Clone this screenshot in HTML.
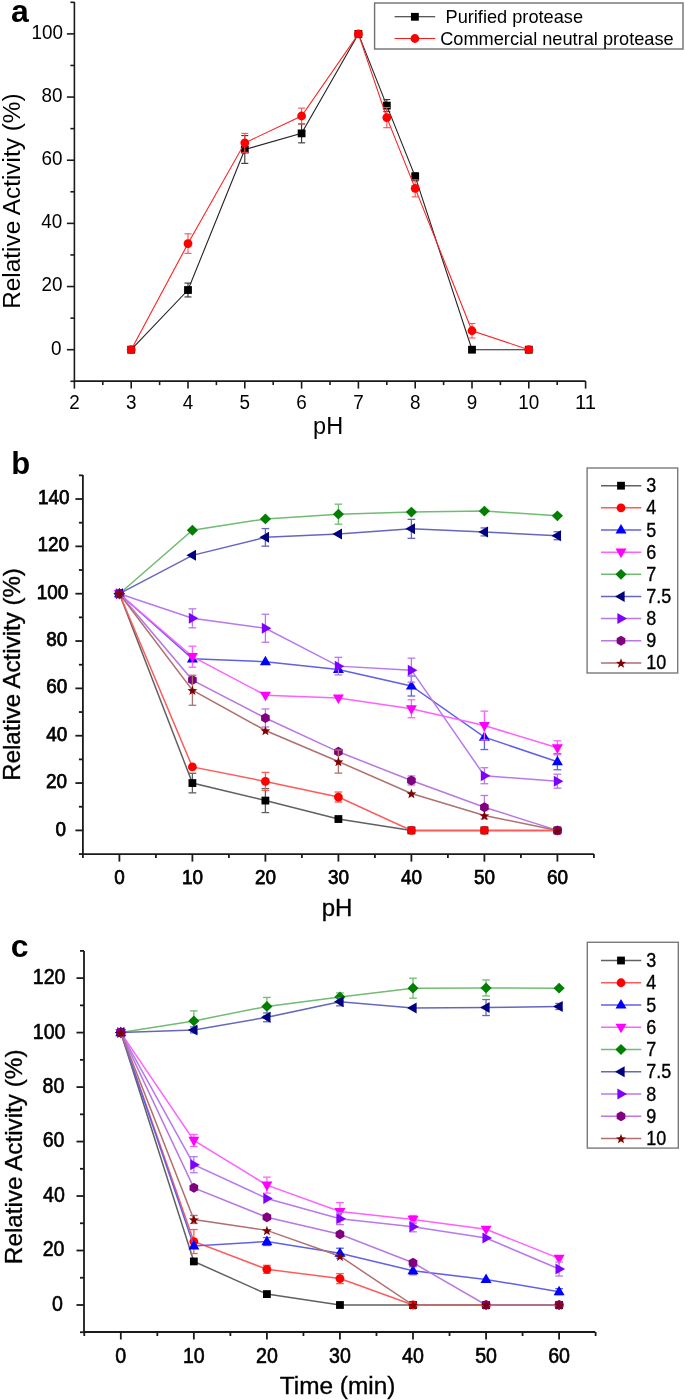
<!DOCTYPE html>
<html><head><meta charset="utf-8"><style>
html,body{margin:0;padding:0;background:#fff;}
svg{display:block;font-family:"Liberation Sans", sans-serif;will-change:transform;}
text{font-family:"Liberation Sans", sans-serif;}
</style></head><body>
<svg width="685" height="1400" viewBox="0 0 685 1400">
<rect width="685" height="1400" fill="#fff"/>
<path d="M74.4,2 V381.1 H585.6" fill="none" stroke="#1a1a1a" stroke-width="1.6"/>
<line x1="66.9" y1="349.7" x2="74.4" y2="349.7" stroke="#1a1a1a" stroke-width="1.6"/>
<line x1="66.9" y1="286.54" x2="74.4" y2="286.54" stroke="#1a1a1a" stroke-width="1.6"/>
<line x1="66.9" y1="223.38" x2="74.4" y2="223.38" stroke="#1a1a1a" stroke-width="1.6"/>
<line x1="66.9" y1="160.22" x2="74.4" y2="160.22" stroke="#1a1a1a" stroke-width="1.6"/>
<line x1="66.9" y1="97.06" x2="74.4" y2="97.06" stroke="#1a1a1a" stroke-width="1.6"/>
<line x1="66.9" y1="33.9" x2="74.4" y2="33.9" stroke="#1a1a1a" stroke-width="1.6"/>
<line x1="70.4" y1="381.28" x2="74.4" y2="381.28" stroke="#1a1a1a" stroke-width="1.6"/>
<line x1="70.4" y1="318.12" x2="74.4" y2="318.12" stroke="#1a1a1a" stroke-width="1.6"/>
<line x1="70.4" y1="254.96" x2="74.4" y2="254.96" stroke="#1a1a1a" stroke-width="1.6"/>
<line x1="70.4" y1="191.8" x2="74.4" y2="191.8" stroke="#1a1a1a" stroke-width="1.6"/>
<line x1="70.4" y1="128.64" x2="74.4" y2="128.64" stroke="#1a1a1a" stroke-width="1.6"/>
<line x1="70.4" y1="65.48" x2="74.4" y2="65.48" stroke="#1a1a1a" stroke-width="1.6"/>
<line x1="70.4" y1="2.32" x2="74.4" y2="2.32" stroke="#1a1a1a" stroke-width="1.6"/>
<line x1="74.4" y1="381.1" x2="74.4" y2="388.6" stroke="#1a1a1a" stroke-width="1.6"/>
<line x1="131.2" y1="381.1" x2="131.2" y2="388.6" stroke="#1a1a1a" stroke-width="1.6"/>
<line x1="188" y1="381.1" x2="188" y2="388.6" stroke="#1a1a1a" stroke-width="1.6"/>
<line x1="244.8" y1="381.1" x2="244.8" y2="388.6" stroke="#1a1a1a" stroke-width="1.6"/>
<line x1="301.6" y1="381.1" x2="301.6" y2="388.6" stroke="#1a1a1a" stroke-width="1.6"/>
<line x1="358.4" y1="381.1" x2="358.4" y2="388.6" stroke="#1a1a1a" stroke-width="1.6"/>
<line x1="415.2" y1="381.1" x2="415.2" y2="388.6" stroke="#1a1a1a" stroke-width="1.6"/>
<line x1="472" y1="381.1" x2="472" y2="388.6" stroke="#1a1a1a" stroke-width="1.6"/>
<line x1="528.8" y1="381.1" x2="528.8" y2="388.6" stroke="#1a1a1a" stroke-width="1.6"/>
<line x1="585.6" y1="381.1" x2="585.6" y2="388.6" stroke="#1a1a1a" stroke-width="1.6"/>
<line x1="102.8" y1="381.1" x2="102.8" y2="385.1" stroke="#1a1a1a" stroke-width="1.6"/>
<line x1="159.6" y1="381.1" x2="159.6" y2="385.1" stroke="#1a1a1a" stroke-width="1.6"/>
<line x1="216.4" y1="381.1" x2="216.4" y2="385.1" stroke="#1a1a1a" stroke-width="1.6"/>
<line x1="273.2" y1="381.1" x2="273.2" y2="385.1" stroke="#1a1a1a" stroke-width="1.6"/>
<line x1="330" y1="381.1" x2="330" y2="385.1" stroke="#1a1a1a" stroke-width="1.6"/>
<line x1="386.8" y1="381.1" x2="386.8" y2="385.1" stroke="#1a1a1a" stroke-width="1.6"/>
<line x1="443.6" y1="381.1" x2="443.6" y2="385.1" stroke="#1a1a1a" stroke-width="1.6"/>
<line x1="500.4" y1="381.1" x2="500.4" y2="385.1" stroke="#1a1a1a" stroke-width="1.6"/>
<line x1="557.2" y1="381.1" x2="557.2" y2="385.1" stroke="#1a1a1a" stroke-width="1.6"/>
<text x="61.4" y="354.6" font-size="20" text-anchor="end" font-weight="normal" fill="#000" textLength="10.5" lengthAdjust="spacingAndGlyphs">0</text>
<text x="62.6" y="291.44" font-size="20" text-anchor="end" font-weight="normal" fill="#000" textLength="21" lengthAdjust="spacingAndGlyphs">20</text>
<text x="62.3" y="228.28" font-size="20" text-anchor="end" font-weight="normal" fill="#000" textLength="21" lengthAdjust="spacingAndGlyphs">40</text>
<text x="62.6" y="165.12" font-size="20" text-anchor="end" font-weight="normal" fill="#000" textLength="21" lengthAdjust="spacingAndGlyphs">60</text>
<text x="62.6" y="101.96" font-size="20" text-anchor="end" font-weight="normal" fill="#000" textLength="21" lengthAdjust="spacingAndGlyphs">80</text>
<text x="62.95" y="38.8" font-size="20" text-anchor="end" font-weight="normal" fill="#000" textLength="31.5" lengthAdjust="spacingAndGlyphs">100</text>
<text x="74.4" y="408.8" font-size="20" text-anchor="middle" font-weight="normal" fill="#000" textLength="10.5" lengthAdjust="spacingAndGlyphs">2</text>
<text x="131.2" y="408.8" font-size="20" text-anchor="middle" font-weight="normal" fill="#000" textLength="10.5" lengthAdjust="spacingAndGlyphs">3</text>
<text x="188" y="408.8" font-size="20" text-anchor="middle" font-weight="normal" fill="#000" textLength="10.5" lengthAdjust="spacingAndGlyphs">4</text>
<text x="244.8" y="408.8" font-size="20" text-anchor="middle" font-weight="normal" fill="#000" textLength="10.5" lengthAdjust="spacingAndGlyphs">5</text>
<text x="301.6" y="408.8" font-size="20" text-anchor="middle" font-weight="normal" fill="#000" textLength="10.5" lengthAdjust="spacingAndGlyphs">6</text>
<text x="358.4" y="408.8" font-size="20" text-anchor="middle" font-weight="normal" fill="#000" textLength="10.5" lengthAdjust="spacingAndGlyphs">7</text>
<text x="415.2" y="408.8" font-size="20" text-anchor="middle" font-weight="normal" fill="#000" textLength="10.5" lengthAdjust="spacingAndGlyphs">8</text>
<text x="472" y="408.8" font-size="20" text-anchor="middle" font-weight="normal" fill="#000" textLength="10.5" lengthAdjust="spacingAndGlyphs">9</text>
<text x="528.8" y="408.8" font-size="20" text-anchor="middle" font-weight="normal" fill="#000" textLength="21" lengthAdjust="spacingAndGlyphs">10</text>
<text x="585.6" y="408.8" font-size="20" text-anchor="middle" font-weight="normal" fill="#000" textLength="21" lengthAdjust="spacingAndGlyphs">11</text>
<text x="328.1" y="433.7" font-size="23.5" text-anchor="middle" font-weight="normal" fill="#000">pH</text>
<text transform="translate(20.1,201.1) rotate(-90)" font-size="24.4" text-anchor="middle">Relative Activity (%)</text>
<text x="10.9" y="22.3" font-size="32" text-anchor="start" font-weight="bold" fill="#000">a</text>
<polyline points="131.2,349.7 188,290.01 244.8,149.48 301.6,133.38 358.4,33.9 386.8,105.59 415.2,176.64 472,349.7 528.8,349.7" fill="none" stroke="#222" stroke-width="1.1"/>
<line x1="188" y1="283.07" x2="188" y2="296.96" stroke="#333" stroke-width="1.1"/>
<line x1="184.5" y1="283.07" x2="191.5" y2="283.07" stroke="#333" stroke-width="1.1"/>
<line x1="184.5" y1="296.96" x2="191.5" y2="296.96" stroke="#333" stroke-width="1.1"/>
<line x1="244.8" y1="135.59" x2="244.8" y2="163.38" stroke="#333" stroke-width="1.1"/>
<line x1="241.3" y1="135.59" x2="248.3" y2="135.59" stroke="#333" stroke-width="1.1"/>
<line x1="241.3" y1="163.38" x2="248.3" y2="163.38" stroke="#333" stroke-width="1.1"/>
<line x1="301.6" y1="123.9" x2="301.6" y2="142.85" stroke="#333" stroke-width="1.1"/>
<line x1="298.1" y1="123.9" x2="305.1" y2="123.9" stroke="#333" stroke-width="1.1"/>
<line x1="298.1" y1="142.85" x2="305.1" y2="142.85" stroke="#333" stroke-width="1.1"/>
<line x1="386.8" y1="99.59" x2="386.8" y2="111.59" stroke="#333" stroke-width="1.1"/>
<line x1="383.3" y1="99.59" x2="390.3" y2="99.59" stroke="#333" stroke-width="1.1"/>
<line x1="383.3" y1="111.59" x2="390.3" y2="111.59" stroke="#333" stroke-width="1.1"/>
<line x1="415.2" y1="172.54" x2="415.2" y2="180.75" stroke="#333" stroke-width="1.1"/>
<line x1="411.7" y1="172.54" x2="418.7" y2="172.54" stroke="#333" stroke-width="1.1"/>
<line x1="411.7" y1="180.75" x2="418.7" y2="180.75" stroke="#333" stroke-width="1.1"/>
<rect x="127.3" y="345.8" width="7.8" height="7.8" fill="#000"/>
<rect x="184.1" y="286.11" width="7.8" height="7.8" fill="#000"/>
<rect x="240.9" y="145.58" width="7.8" height="7.8" fill="#000"/>
<rect x="297.7" y="129.48" width="7.8" height="7.8" fill="#000"/>
<rect x="354.5" y="30" width="7.8" height="7.8" fill="#000"/>
<rect x="382.9" y="101.69" width="7.8" height="7.8" fill="#000"/>
<rect x="411.3" y="172.74" width="7.8" height="7.8" fill="#000"/>
<rect x="468.1" y="345.8" width="7.8" height="7.8" fill="#000"/>
<rect x="524.9" y="345.8" width="7.8" height="7.8" fill="#000"/>
<polyline points="131.2,349.7 188,243.59 244.8,142.85 301.6,116.01 358.4,33.9 386.8,117.59 415.2,188.33 472,330.75 528.8,349.7" fill="none" stroke="#ff2020" stroke-width="1.1"/>
<line x1="188" y1="233.8" x2="188" y2="253.38" stroke="#ff5050" stroke-width="1.1"/>
<line x1="184.5" y1="233.8" x2="191.5" y2="233.8" stroke="#ff5050" stroke-width="1.1"/>
<line x1="184.5" y1="253.38" x2="191.5" y2="253.38" stroke="#ff5050" stroke-width="1.1"/>
<line x1="244.8" y1="133.38" x2="244.8" y2="152.32" stroke="#ff5050" stroke-width="1.1"/>
<line x1="241.3" y1="133.38" x2="248.3" y2="133.38" stroke="#ff5050" stroke-width="1.1"/>
<line x1="241.3" y1="152.32" x2="248.3" y2="152.32" stroke="#ff5050" stroke-width="1.1"/>
<line x1="301.6" y1="108.11" x2="301.6" y2="123.9" stroke="#ff5050" stroke-width="1.1"/>
<line x1="298.1" y1="108.11" x2="305.1" y2="108.11" stroke="#ff5050" stroke-width="1.1"/>
<line x1="298.1" y1="123.9" x2="305.1" y2="123.9" stroke="#ff5050" stroke-width="1.1"/>
<line x1="386.8" y1="107.48" x2="386.8" y2="127.69" stroke="#ff5050" stroke-width="1.1"/>
<line x1="383.3" y1="107.48" x2="390.3" y2="107.48" stroke="#ff5050" stroke-width="1.1"/>
<line x1="383.3" y1="127.69" x2="390.3" y2="127.69" stroke="#ff5050" stroke-width="1.1"/>
<line x1="415.2" y1="179.8" x2="415.2" y2="196.85" stroke="#ff5050" stroke-width="1.1"/>
<line x1="411.7" y1="179.8" x2="418.7" y2="179.8" stroke="#ff5050" stroke-width="1.1"/>
<line x1="411.7" y1="196.85" x2="418.7" y2="196.85" stroke="#ff5050" stroke-width="1.1"/>
<line x1="472" y1="323.49" x2="472" y2="338.02" stroke="#ff5050" stroke-width="1.1"/>
<line x1="468.5" y1="323.49" x2="475.5" y2="323.49" stroke="#ff5050" stroke-width="1.1"/>
<line x1="468.5" y1="338.02" x2="475.5" y2="338.02" stroke="#ff5050" stroke-width="1.1"/>
<circle cx="131.2" cy="349.7" r="4.4" fill="#ff0000"/>
<circle cx="188" cy="243.59" r="4.4" fill="#ff0000"/>
<circle cx="244.8" cy="142.85" r="4.4" fill="#ff0000"/>
<circle cx="301.6" cy="116.01" r="4.4" fill="#ff0000"/>
<circle cx="358.4" cy="33.9" r="4.4" fill="#ff0000"/>
<circle cx="386.8" cy="117.59" r="4.4" fill="#ff0000"/>
<circle cx="415.2" cy="188.33" r="4.4" fill="#ff0000"/>
<circle cx="472" cy="330.75" r="4.4" fill="#ff0000"/>
<circle cx="528.8" cy="349.7" r="4.4" fill="#ff0000"/>
<rect x="374.6" y="3" width="308.4" height="46" fill="none" stroke="#707070" stroke-width="1.4"/>
<line x1="394.6" y1="16.8" x2="435.2" y2="16.8" stroke="#222" stroke-width="1.1"/>
<rect x="411" y="12.9" width="7.8" height="7.8" fill="#000"/>
<line x1="394.6" y1="38.5" x2="435.2" y2="38.5" stroke="#ff1a1a" stroke-width="1.1"/>
<circle cx="414.9" cy="38.5" r="4.4" fill="#ff0000"/>
<text x="445.5" y="22.9" font-size="18.2" text-anchor="start" font-weight="normal" fill="#000">Purified protease</text>
<text x="440.2" y="44.8" font-size="18.2" text-anchor="start" font-weight="normal" fill="#000">Commercial neutral protease</text>
<path d="M82.9,475 V854.1 H593.8" fill="none" stroke="#1a1a1a" stroke-width="1.8"/>
<line x1="75.4" y1="830.4" x2="82.9" y2="830.4" stroke="#1a1a1a" stroke-width="1.8"/>
<line x1="75.4" y1="783.06" x2="82.9" y2="783.06" stroke="#1a1a1a" stroke-width="1.8"/>
<line x1="75.4" y1="735.72" x2="82.9" y2="735.72" stroke="#1a1a1a" stroke-width="1.8"/>
<line x1="75.4" y1="688.38" x2="82.9" y2="688.38" stroke="#1a1a1a" stroke-width="1.8"/>
<line x1="75.4" y1="641.04" x2="82.9" y2="641.04" stroke="#1a1a1a" stroke-width="1.8"/>
<line x1="75.4" y1="593.7" x2="82.9" y2="593.7" stroke="#1a1a1a" stroke-width="1.8"/>
<line x1="75.4" y1="546.36" x2="82.9" y2="546.36" stroke="#1a1a1a" stroke-width="1.8"/>
<line x1="75.4" y1="499.02" x2="82.9" y2="499.02" stroke="#1a1a1a" stroke-width="1.8"/>
<line x1="78.9" y1="854.07" x2="82.9" y2="854.07" stroke="#1a1a1a" stroke-width="1.8"/>
<line x1="78.9" y1="806.73" x2="82.9" y2="806.73" stroke="#1a1a1a" stroke-width="1.8"/>
<line x1="78.9" y1="759.39" x2="82.9" y2="759.39" stroke="#1a1a1a" stroke-width="1.8"/>
<line x1="78.9" y1="712.05" x2="82.9" y2="712.05" stroke="#1a1a1a" stroke-width="1.8"/>
<line x1="78.9" y1="664.71" x2="82.9" y2="664.71" stroke="#1a1a1a" stroke-width="1.8"/>
<line x1="78.9" y1="617.37" x2="82.9" y2="617.37" stroke="#1a1a1a" stroke-width="1.8"/>
<line x1="78.9" y1="570.03" x2="82.9" y2="570.03" stroke="#1a1a1a" stroke-width="1.8"/>
<line x1="78.9" y1="522.69" x2="82.9" y2="522.69" stroke="#1a1a1a" stroke-width="1.8"/>
<line x1="78.9" y1="475.35" x2="82.9" y2="475.35" stroke="#1a1a1a" stroke-width="1.8"/>
<line x1="119.4" y1="854.1" x2="119.4" y2="861.6" stroke="#1a1a1a" stroke-width="1.8"/>
<line x1="192.4" y1="854.1" x2="192.4" y2="861.6" stroke="#1a1a1a" stroke-width="1.8"/>
<line x1="265.4" y1="854.1" x2="265.4" y2="861.6" stroke="#1a1a1a" stroke-width="1.8"/>
<line x1="338.4" y1="854.1" x2="338.4" y2="861.6" stroke="#1a1a1a" stroke-width="1.8"/>
<line x1="411.4" y1="854.1" x2="411.4" y2="861.6" stroke="#1a1a1a" stroke-width="1.8"/>
<line x1="484.4" y1="854.1" x2="484.4" y2="861.6" stroke="#1a1a1a" stroke-width="1.8"/>
<line x1="557.4" y1="854.1" x2="557.4" y2="861.6" stroke="#1a1a1a" stroke-width="1.8"/>
<line x1="82.9" y1="854.1" x2="82.9" y2="858.1" stroke="#1a1a1a" stroke-width="1.8"/>
<line x1="155.9" y1="854.1" x2="155.9" y2="858.1" stroke="#1a1a1a" stroke-width="1.8"/>
<line x1="228.9" y1="854.1" x2="228.9" y2="858.1" stroke="#1a1a1a" stroke-width="1.8"/>
<line x1="301.9" y1="854.1" x2="301.9" y2="858.1" stroke="#1a1a1a" stroke-width="1.8"/>
<line x1="374.9" y1="854.1" x2="374.9" y2="858.1" stroke="#1a1a1a" stroke-width="1.8"/>
<line x1="447.9" y1="854.1" x2="447.9" y2="858.1" stroke="#1a1a1a" stroke-width="1.8"/>
<line x1="520.9" y1="854.1" x2="520.9" y2="858.1" stroke="#1a1a1a" stroke-width="1.8"/>
<line x1="593.9" y1="854.1" x2="593.9" y2="858.1" stroke="#1a1a1a" stroke-width="1.8"/>
<text x="66.05" y="835.5" font-size="21" text-anchor="end" font-weight="normal" fill="#000" stroke="#000" stroke-width="0.75" textLength="10.5" lengthAdjust="spacingAndGlyphs">0</text>
<text x="66.9" y="788.16" font-size="21" text-anchor="end" font-weight="normal" fill="#000" stroke="#000" stroke-width="0.75" textLength="21" lengthAdjust="spacingAndGlyphs">20</text>
<text x="67.3" y="740.82" font-size="21" text-anchor="end" font-weight="normal" fill="#000" stroke="#000" stroke-width="0.75" textLength="21" lengthAdjust="spacingAndGlyphs">40</text>
<text x="67.3" y="693.48" font-size="21" text-anchor="end" font-weight="normal" fill="#000" stroke="#000" stroke-width="0.75" textLength="21" lengthAdjust="spacingAndGlyphs">60</text>
<text x="67.3" y="646.14" font-size="21" text-anchor="end" font-weight="normal" fill="#000" stroke="#000" stroke-width="0.75" textLength="21" lengthAdjust="spacingAndGlyphs">80</text>
<text x="68.3" y="598.8" font-size="21" text-anchor="end" font-weight="normal" fill="#000" stroke="#000" stroke-width="0.75" textLength="31.5" lengthAdjust="spacingAndGlyphs">100</text>
<text x="69" y="551.46" font-size="21" text-anchor="end" font-weight="normal" fill="#000" stroke="#000" stroke-width="0.75" textLength="31.5" lengthAdjust="spacingAndGlyphs">120</text>
<text x="69.6" y="504.12" font-size="21" text-anchor="end" font-weight="normal" fill="#000" stroke="#000" stroke-width="0.75" textLength="31.5" lengthAdjust="spacingAndGlyphs">140</text>
<text x="119.4" y="884.2" font-size="21" text-anchor="middle" font-weight="normal" fill="#000" stroke="#000" stroke-width="0.75" textLength="10.5" lengthAdjust="spacingAndGlyphs">0</text>
<text x="192.4" y="884.2" font-size="21" text-anchor="middle" font-weight="normal" fill="#000" stroke="#000" stroke-width="0.75" textLength="21" lengthAdjust="spacingAndGlyphs">10</text>
<text x="265.4" y="884.2" font-size="21" text-anchor="middle" font-weight="normal" fill="#000" stroke="#000" stroke-width="0.75" textLength="21" lengthAdjust="spacingAndGlyphs">20</text>
<text x="338.4" y="884.2" font-size="21" text-anchor="middle" font-weight="normal" fill="#000" stroke="#000" stroke-width="0.75" textLength="21" lengthAdjust="spacingAndGlyphs">30</text>
<text x="411.4" y="884.2" font-size="21" text-anchor="middle" font-weight="normal" fill="#000" stroke="#000" stroke-width="0.75" textLength="21" lengthAdjust="spacingAndGlyphs">40</text>
<text x="484.4" y="884.2" font-size="21" text-anchor="middle" font-weight="normal" fill="#000" stroke="#000" stroke-width="0.75" textLength="21" lengthAdjust="spacingAndGlyphs">50</text>
<text x="557.4" y="884.2" font-size="21" text-anchor="middle" font-weight="normal" fill="#000" stroke="#000" stroke-width="0.75" textLength="21" lengthAdjust="spacingAndGlyphs">60</text>
<text x="337.1" y="916.1" font-size="24" text-anchor="middle" font-weight="normal" fill="#000" stroke="#000" stroke-width="0.35">pH</text>
<text transform="translate(19.9,674.45) rotate(-90)" font-size="24.07" text-anchor="middle" stroke="#000" stroke-width="0.35">Relative Activity (%)</text>
<text x="11.2" y="474.1" font-size="31" text-anchor="start" font-weight="bold" fill="#000">b</text>
<polyline points="119.4,593.7 192.4,783.06 265.4,800.58 338.4,819.04 411.4,830.4 484.4,830.4 557.4,830.4" fill="none" stroke="#606060" stroke-width="1.5"/>
<line x1="192.4" y1="773.26" x2="192.4" y2="792.86" stroke="#606060" stroke-width="1.3"/>
<line x1="188.55" y1="773.26" x2="196.25" y2="773.26" stroke="#606060" stroke-width="1.3"/>
<line x1="188.55" y1="792.86" x2="196.25" y2="792.86" stroke="#606060" stroke-width="1.3"/>
<line x1="265.4" y1="788.58" x2="265.4" y2="812.58" stroke="#606060" stroke-width="1.3"/>
<line x1="261.55" y1="788.58" x2="269.25" y2="788.58" stroke="#606060" stroke-width="1.3"/>
<line x1="261.55" y1="812.58" x2="269.25" y2="812.58" stroke="#606060" stroke-width="1.3"/>
<rect x="115.5" y="589.8" width="7.8" height="7.8" fill="#000000"/>
<rect x="188.5" y="779.16" width="7.8" height="7.8" fill="#000000"/>
<rect x="261.5" y="796.68" width="7.8" height="7.8" fill="#000000"/>
<rect x="334.5" y="815.14" width="7.8" height="7.8" fill="#000000"/>
<rect x="407.5" y="826.5" width="7.8" height="7.8" fill="#000000"/>
<rect x="480.5" y="826.5" width="7.8" height="7.8" fill="#000000"/>
<rect x="553.5" y="826.5" width="7.8" height="7.8" fill="#000000"/>
<polyline points="119.4,593.7 192.4,766.96 265.4,781.4 338.4,797.03 411.4,830.4 484.4,830.4 557.4,830.4" fill="none" stroke="#ff5a5a" stroke-width="1.5"/>
<line x1="265.4" y1="772.4" x2="265.4" y2="790.4" stroke="#ff5a5a" stroke-width="1.3"/>
<line x1="261.55" y1="772.4" x2="269.25" y2="772.4" stroke="#ff5a5a" stroke-width="1.3"/>
<line x1="261.55" y1="790.4" x2="269.25" y2="790.4" stroke="#ff5a5a" stroke-width="1.3"/>
<line x1="338.4" y1="792.03" x2="338.4" y2="802.03" stroke="#ff5a5a" stroke-width="1.3"/>
<line x1="334.55" y1="792.03" x2="342.25" y2="792.03" stroke="#ff5a5a" stroke-width="1.3"/>
<line x1="334.55" y1="802.03" x2="342.25" y2="802.03" stroke="#ff5a5a" stroke-width="1.3"/>
<circle cx="119.4" cy="593.7" r="4.4" fill="#ff0000"/>
<circle cx="192.4" cy="766.96" r="4.4" fill="#ff0000"/>
<circle cx="265.4" cy="781.4" r="4.4" fill="#ff0000"/>
<circle cx="338.4" cy="797.03" r="4.4" fill="#ff0000"/>
<circle cx="411.4" cy="830.4" r="4.4" fill="#ff0000"/>
<circle cx="484.4" cy="830.4" r="4.4" fill="#ff0000"/>
<circle cx="557.4" cy="830.4" r="4.4" fill="#ff0000"/>
<polyline points="119.4,593.7 192.4,658.79 265.4,661.63 338.4,669.44 411.4,686.01 484.4,737.14 557.4,761.76" fill="none" stroke="#6060e8" stroke-width="1.5"/>
<line x1="411.4" y1="676.01" x2="411.4" y2="696.01" stroke="#6060e8" stroke-width="1.3"/>
<line x1="407.55" y1="676.01" x2="415.25" y2="676.01" stroke="#6060e8" stroke-width="1.3"/>
<line x1="407.55" y1="696.01" x2="415.25" y2="696.01" stroke="#6060e8" stroke-width="1.3"/>
<line x1="484.4" y1="724.74" x2="484.4" y2="749.54" stroke="#6060e8" stroke-width="1.3"/>
<line x1="480.55" y1="724.74" x2="488.25" y2="724.74" stroke="#6060e8" stroke-width="1.3"/>
<line x1="480.55" y1="749.54" x2="488.25" y2="749.54" stroke="#6060e8" stroke-width="1.3"/>
<line x1="557.4" y1="753.76" x2="557.4" y2="769.76" stroke="#6060e8" stroke-width="1.3"/>
<line x1="553.55" y1="753.76" x2="561.25" y2="753.76" stroke="#6060e8" stroke-width="1.3"/>
<line x1="553.55" y1="769.76" x2="561.25" y2="769.76" stroke="#6060e8" stroke-width="1.3"/>
<polygon points="119.4,587.7 124.9,597.3 113.9,597.3" fill="#0000ff"/>
<polygon points="192.4,652.79 197.9,662.39 186.9,662.39" fill="#0000ff"/>
<polygon points="265.4,655.63 270.9,665.23 259.9,665.23" fill="#0000ff"/>
<polygon points="338.4,663.44 343.9,673.04 332.9,673.04" fill="#0000ff"/>
<polygon points="411.4,680.01 416.9,689.61 405.9,689.61" fill="#0000ff"/>
<polygon points="484.4,731.14 489.9,740.74 478.9,740.74" fill="#0000ff"/>
<polygon points="557.4,755.76 562.9,765.36 551.9,765.36" fill="#0000ff"/>
<polyline points="119.4,593.7 192.4,656.66 265.4,695.24 338.4,698.08 411.4,708.74 484.4,725.54 557.4,747.79" fill="none" stroke="#ff60ff" stroke-width="1.5"/>
<line x1="192.4" y1="646.16" x2="192.4" y2="667.16" stroke="#ff60ff" stroke-width="1.3"/>
<line x1="188.55" y1="646.16" x2="196.25" y2="646.16" stroke="#ff60ff" stroke-width="1.3"/>
<line x1="188.55" y1="667.16" x2="196.25" y2="667.16" stroke="#ff60ff" stroke-width="1.3"/>
<line x1="411.4" y1="699.74" x2="411.4" y2="717.74" stroke="#ff60ff" stroke-width="1.3"/>
<line x1="407.55" y1="699.74" x2="415.25" y2="699.74" stroke="#ff60ff" stroke-width="1.3"/>
<line x1="407.55" y1="717.74" x2="415.25" y2="717.74" stroke="#ff60ff" stroke-width="1.3"/>
<line x1="484.4" y1="711.14" x2="484.4" y2="739.94" stroke="#ff60ff" stroke-width="1.3"/>
<line x1="480.55" y1="711.14" x2="488.25" y2="711.14" stroke="#ff60ff" stroke-width="1.3"/>
<line x1="480.55" y1="739.94" x2="488.25" y2="739.94" stroke="#ff60ff" stroke-width="1.3"/>
<line x1="557.4" y1="740.79" x2="557.4" y2="754.79" stroke="#ff60ff" stroke-width="1.3"/>
<line x1="553.55" y1="740.79" x2="561.25" y2="740.79" stroke="#ff60ff" stroke-width="1.3"/>
<line x1="553.55" y1="754.79" x2="561.25" y2="754.79" stroke="#ff60ff" stroke-width="1.3"/>
<polygon points="119.4,599.7 124.9,590.1 113.9,590.1" fill="#ff00ff"/>
<polygon points="192.4,662.66 197.9,653.06 186.9,653.06" fill="#ff00ff"/>
<polygon points="265.4,701.24 270.9,691.64 259.9,691.64" fill="#ff00ff"/>
<polygon points="338.4,704.08 343.9,694.48 332.9,694.48" fill="#ff00ff"/>
<polygon points="411.4,714.74 416.9,705.14 405.9,705.14" fill="#ff00ff"/>
<polygon points="484.4,731.54 489.9,721.94 478.9,721.94" fill="#ff00ff"/>
<polygon points="557.4,753.79 562.9,744.19 551.9,744.19" fill="#ff00ff"/>
<polyline points="119.4,593.7 192.4,530.26 265.4,518.9 338.4,514.17 411.4,512.04 484.4,511.09 557.4,515.83" fill="none" stroke="#72bb72" stroke-width="1.5"/>
<line x1="338.4" y1="504.17" x2="338.4" y2="524.17" stroke="#72bb72" stroke-width="1.3"/>
<line x1="334.55" y1="504.17" x2="342.25" y2="504.17" stroke="#72bb72" stroke-width="1.3"/>
<line x1="334.55" y1="524.17" x2="342.25" y2="524.17" stroke="#72bb72" stroke-width="1.3"/>
<polygon points="119.4,588.3 125,593.7 119.4,599.1 113.8,593.7" fill="#008000"/>
<polygon points="192.4,524.86 198,530.26 192.4,535.66 186.8,530.26" fill="#008000"/>
<polygon points="265.4,513.5 271,518.9 265.4,524.3 259.8,518.9" fill="#008000"/>
<polygon points="338.4,508.77 344,514.17 338.4,519.57 332.8,514.17" fill="#008000"/>
<polygon points="411.4,506.64 417,512.04 411.4,517.44 405.8,512.04" fill="#008000"/>
<polygon points="484.4,505.69 490,511.09 484.4,516.49 478.8,511.09" fill="#008000"/>
<polygon points="557.4,510.43 563,515.83 557.4,521.23 551.8,515.83" fill="#008000"/>
<polyline points="119.4,593.7 192.4,555.35 265.4,537.37 338.4,534.05 411.4,528.84 484.4,531.92 557.4,535.71" fill="none" stroke="#6666c0" stroke-width="1.5"/>
<line x1="265.4" y1="528.57" x2="265.4" y2="546.17" stroke="#6666c0" stroke-width="1.3"/>
<line x1="261.55" y1="528.57" x2="269.25" y2="528.57" stroke="#6666c0" stroke-width="1.3"/>
<line x1="261.55" y1="546.17" x2="269.25" y2="546.17" stroke="#6666c0" stroke-width="1.3"/>
<line x1="411.4" y1="519.34" x2="411.4" y2="538.34" stroke="#6666c0" stroke-width="1.3"/>
<line x1="407.55" y1="519.34" x2="415.25" y2="519.34" stroke="#6666c0" stroke-width="1.3"/>
<line x1="407.55" y1="538.34" x2="415.25" y2="538.34" stroke="#6666c0" stroke-width="1.3"/>
<line x1="484.4" y1="527.92" x2="484.4" y2="535.92" stroke="#6666c0" stroke-width="1.3"/>
<line x1="480.55" y1="527.92" x2="488.25" y2="527.92" stroke="#6666c0" stroke-width="1.3"/>
<line x1="480.55" y1="535.92" x2="488.25" y2="535.92" stroke="#6666c0" stroke-width="1.3"/>
<line x1="557.4" y1="531.71" x2="557.4" y2="539.71" stroke="#6666c0" stroke-width="1.3"/>
<line x1="553.55" y1="531.71" x2="561.25" y2="531.71" stroke="#6666c0" stroke-width="1.3"/>
<line x1="553.55" y1="539.71" x2="561.25" y2="539.71" stroke="#6666c0" stroke-width="1.3"/>
<polygon points="113.4,593.7 123,588.2 123,599.2" fill="#000080"/>
<polygon points="186.4,555.35 196,549.85 196,560.85" fill="#000080"/>
<polygon points="259.4,537.37 269,531.87 269,542.87" fill="#000080"/>
<polygon points="332.4,534.05 342,528.55 342,539.55" fill="#000080"/>
<polygon points="405.4,528.84 415,523.34 415,534.34" fill="#000080"/>
<polygon points="478.4,531.92 488,526.42 488,537.42" fill="#000080"/>
<polygon points="551.4,535.71 561,530.21 561,541.21" fill="#000080"/>
<polyline points="119.4,593.7 192.4,618.32 265.4,628.26 338.4,666.13 411.4,670.15 484.4,775.72 557.4,781.17" fill="none" stroke="#b878f0" stroke-width="1.5"/>
<line x1="192.4" y1="608.82" x2="192.4" y2="627.82" stroke="#b878f0" stroke-width="1.3"/>
<line x1="188.55" y1="608.82" x2="196.25" y2="608.82" stroke="#b878f0" stroke-width="1.3"/>
<line x1="188.55" y1="627.82" x2="196.25" y2="627.82" stroke="#b878f0" stroke-width="1.3"/>
<line x1="265.4" y1="614.26" x2="265.4" y2="642.26" stroke="#b878f0" stroke-width="1.3"/>
<line x1="261.55" y1="614.26" x2="269.25" y2="614.26" stroke="#b878f0" stroke-width="1.3"/>
<line x1="261.55" y1="642.26" x2="269.25" y2="642.26" stroke="#b878f0" stroke-width="1.3"/>
<line x1="338.4" y1="657.33" x2="338.4" y2="674.93" stroke="#b878f0" stroke-width="1.3"/>
<line x1="334.55" y1="657.33" x2="342.25" y2="657.33" stroke="#b878f0" stroke-width="1.3"/>
<line x1="334.55" y1="674.93" x2="342.25" y2="674.93" stroke="#b878f0" stroke-width="1.3"/>
<line x1="411.4" y1="658.15" x2="411.4" y2="682.15" stroke="#b878f0" stroke-width="1.3"/>
<line x1="407.55" y1="658.15" x2="415.25" y2="658.15" stroke="#b878f0" stroke-width="1.3"/>
<line x1="407.55" y1="682.15" x2="415.25" y2="682.15" stroke="#b878f0" stroke-width="1.3"/>
<line x1="484.4" y1="767.72" x2="484.4" y2="783.72" stroke="#b878f0" stroke-width="1.3"/>
<line x1="480.55" y1="767.72" x2="488.25" y2="767.72" stroke="#b878f0" stroke-width="1.3"/>
<line x1="480.55" y1="783.72" x2="488.25" y2="783.72" stroke="#b878f0" stroke-width="1.3"/>
<line x1="557.4" y1="774.17" x2="557.4" y2="788.17" stroke="#b878f0" stroke-width="1.3"/>
<line x1="553.55" y1="774.17" x2="561.25" y2="774.17" stroke="#b878f0" stroke-width="1.3"/>
<line x1="553.55" y1="788.17" x2="561.25" y2="788.17" stroke="#b878f0" stroke-width="1.3"/>
<polygon points="125.4,593.7 115.8,588.2 115.8,599.2" fill="#8000ff"/>
<polygon points="198.4,618.32 188.8,612.82 188.8,623.82" fill="#8000ff"/>
<polygon points="271.4,628.26 261.8,622.76 261.8,633.76" fill="#8000ff"/>
<polygon points="344.4,666.13 334.8,660.63 334.8,671.63" fill="#8000ff"/>
<polygon points="417.4,670.15 407.8,664.65 407.8,675.65" fill="#8000ff"/>
<polygon points="490.4,775.72 480.8,770.22 480.8,781.22" fill="#8000ff"/>
<polygon points="563.4,781.17 553.8,775.67 553.8,786.67" fill="#8000ff"/>
<polyline points="119.4,593.7 192.4,680.1 265.4,717.97 338.4,751.82 411.4,780.46 484.4,807.2 557.4,830.4" fill="none" stroke="#b878e0" stroke-width="1.5"/>
<line x1="265.4" y1="708.97" x2="265.4" y2="726.97" stroke="#b878e0" stroke-width="1.3"/>
<line x1="261.55" y1="708.97" x2="269.25" y2="708.97" stroke="#b878e0" stroke-width="1.3"/>
<line x1="261.55" y1="726.97" x2="269.25" y2="726.97" stroke="#b878e0" stroke-width="1.3"/>
<line x1="411.4" y1="775.96" x2="411.4" y2="784.96" stroke="#b878e0" stroke-width="1.3"/>
<line x1="407.55" y1="775.96" x2="415.25" y2="775.96" stroke="#b878e0" stroke-width="1.3"/>
<line x1="407.55" y1="784.96" x2="415.25" y2="784.96" stroke="#b878e0" stroke-width="1.3"/>
<line x1="484.4" y1="795.5" x2="484.4" y2="818.9" stroke="#b878e0" stroke-width="1.3"/>
<line x1="480.55" y1="795.5" x2="488.25" y2="795.5" stroke="#b878e0" stroke-width="1.3"/>
<line x1="480.55" y1="818.9" x2="488.25" y2="818.9" stroke="#b878e0" stroke-width="1.3"/>
<polygon points="119.4,588.7 123.73,591.2 123.73,596.2 119.4,598.7 115.07,596.2 115.07,591.2" fill="#800080"/>
<polygon points="192.4,675.1 196.73,677.6 196.73,682.6 192.4,685.1 188.07,682.6 188.07,677.6" fill="#800080"/>
<polygon points="265.4,712.97 269.73,715.47 269.73,720.47 265.4,722.97 261.07,720.47 261.07,715.47" fill="#800080"/>
<polygon points="338.4,746.82 342.73,749.32 342.73,754.32 338.4,756.82 334.07,754.32 334.07,749.32" fill="#800080"/>
<polygon points="411.4,775.46 415.73,777.96 415.73,782.96 411.4,785.46 407.07,782.96 407.07,777.96" fill="#800080"/>
<polygon points="484.4,802.2 488.73,804.7 488.73,809.7 484.4,812.2 480.07,809.7 480.07,804.7" fill="#800080"/>
<polygon points="557.4,825.4 561.73,827.9 561.73,832.9 557.4,835.4 553.07,832.9 553.07,827.9" fill="#800080"/>
<polyline points="119.4,593.7 192.4,690.27 265.4,730.51 338.4,761.52 411.4,793.47 484.4,815.49 557.4,830.4" fill="none" stroke="#b07070" stroke-width="1.5"/>
<line x1="192.4" y1="675.27" x2="192.4" y2="705.27" stroke="#b07070" stroke-width="1.3"/>
<line x1="188.55" y1="675.27" x2="196.25" y2="675.27" stroke="#b07070" stroke-width="1.3"/>
<line x1="188.55" y1="705.27" x2="196.25" y2="705.27" stroke="#b07070" stroke-width="1.3"/>
<line x1="338.4" y1="749.92" x2="338.4" y2="773.12" stroke="#b07070" stroke-width="1.3"/>
<line x1="334.55" y1="749.92" x2="342.25" y2="749.92" stroke="#b07070" stroke-width="1.3"/>
<line x1="334.55" y1="773.12" x2="342.25" y2="773.12" stroke="#b07070" stroke-width="1.3"/>
<polygon points="119.4,589.1 120.69,592.52 124.35,592.69 121.49,594.98 122.46,598.51 119.4,596.5 116.34,598.51 117.31,594.98 114.45,592.69 118.11,592.52" fill="#800000"/>
<polygon points="192.4,685.67 193.69,689.09 197.35,689.27 194.49,691.55 195.46,695.08 192.4,693.07 189.34,695.08 190.31,691.55 187.45,689.27 191.11,689.09" fill="#800000"/>
<polygon points="265.4,725.91 266.69,729.33 270.35,729.51 267.49,731.79 268.46,735.32 265.4,733.31 262.34,735.32 263.31,731.79 260.45,729.51 264.11,729.33" fill="#800000"/>
<polygon points="338.4,756.92 339.69,760.34 343.35,760.51 340.49,762.8 341.46,766.33 338.4,764.32 335.34,766.33 336.31,762.8 333.45,760.51 337.11,760.34" fill="#800000"/>
<polygon points="411.4,788.87 412.69,792.29 416.35,792.47 413.49,794.75 414.46,798.28 411.4,796.27 408.34,798.28 409.31,794.75 406.45,792.47 410.11,792.29" fill="#800000"/>
<polygon points="484.4,810.89 485.69,814.31 489.35,814.48 486.49,816.77 487.46,820.29 484.4,818.29 481.34,820.29 482.31,816.77 479.45,814.48 483.11,814.31" fill="#800000"/>
<polygon points="557.4,825.8 558.69,829.22 562.35,829.39 559.49,831.68 560.46,835.21 557.4,833.2 554.34,835.21 555.31,831.68 552.45,829.39 556.11,829.22" fill="#800000"/>
<rect x="587.1" y="468" width="90.6" height="205" fill="none" stroke="#7a7a7a" stroke-width="1.4"/>
<line x1="601" y1="485.7" x2="641.3" y2="485.7" stroke="#606060" stroke-width="1.5"/>
<rect x="617.1" y="481.8" width="7.8" height="7.8" fill="#000000"/>
<text x="646.3" y="492.2" font-size="20" text-anchor="start" font-weight="normal" fill="#000" textLength="10" lengthAdjust="spacingAndGlyphs" stroke="#000" stroke-width="0.35">3</text>
<line x1="601" y1="507.85" x2="641.3" y2="507.85" stroke="#ff5a5a" stroke-width="1.5"/>
<circle cx="621" cy="507.85" r="4.4" fill="#ff0000"/>
<text x="646.3" y="514.35" font-size="20" text-anchor="start" font-weight="normal" fill="#000" textLength="10" lengthAdjust="spacingAndGlyphs" stroke="#000" stroke-width="0.35">4</text>
<line x1="601" y1="530" x2="641.3" y2="530" stroke="#6060e8" stroke-width="1.5"/>
<polygon points="621,524 626.5,533.6 615.5,533.6" fill="#0000ff"/>
<text x="646.3" y="536.5" font-size="20" text-anchor="start" font-weight="normal" fill="#000" textLength="10" lengthAdjust="spacingAndGlyphs" stroke="#000" stroke-width="0.35">5</text>
<line x1="601" y1="552.15" x2="641.3" y2="552.15" stroke="#ff60ff" stroke-width="1.5"/>
<polygon points="621,558.15 626.5,548.55 615.5,548.55" fill="#ff00ff"/>
<text x="646.3" y="558.65" font-size="20" text-anchor="start" font-weight="normal" fill="#000" textLength="10" lengthAdjust="spacingAndGlyphs" stroke="#000" stroke-width="0.35">6</text>
<line x1="601" y1="574.3" x2="641.3" y2="574.3" stroke="#72bb72" stroke-width="1.5"/>
<polygon points="621,568.9 626.6,574.3 621,579.7 615.4,574.3" fill="#008000"/>
<text x="646.3" y="580.8" font-size="20" text-anchor="start" font-weight="normal" fill="#000" textLength="10" lengthAdjust="spacingAndGlyphs" stroke="#000" stroke-width="0.35">7</text>
<line x1="601" y1="596.45" x2="641.3" y2="596.45" stroke="#6666c0" stroke-width="1.5"/>
<polygon points="615,596.45 624.6,590.95 624.6,601.95" fill="#000080"/>
<text x="646.3" y="602.95" font-size="20" text-anchor="start" font-weight="normal" fill="#000" textLength="25" lengthAdjust="spacingAndGlyphs" stroke="#000" stroke-width="0.35">7.5</text>
<line x1="601" y1="618.6" x2="641.3" y2="618.6" stroke="#b878f0" stroke-width="1.5"/>
<polygon points="627,618.6 617.4,613.1 617.4,624.1" fill="#8000ff"/>
<text x="646.3" y="625.1" font-size="20" text-anchor="start" font-weight="normal" fill="#000" textLength="10" lengthAdjust="spacingAndGlyphs" stroke="#000" stroke-width="0.35">8</text>
<line x1="601" y1="640.75" x2="641.3" y2="640.75" stroke="#b878e0" stroke-width="1.5"/>
<polygon points="621,635.75 625.33,638.25 625.33,643.25 621,645.75 616.67,643.25 616.67,638.25" fill="#800080"/>
<text x="646.3" y="647.25" font-size="20" text-anchor="start" font-weight="normal" fill="#000" textLength="10" lengthAdjust="spacingAndGlyphs" stroke="#000" stroke-width="0.35">9</text>
<line x1="601" y1="662.9" x2="641.3" y2="662.9" stroke="#b07070" stroke-width="1.5"/>
<polygon points="621,658.3 622.29,661.72 625.95,661.89 623.09,664.18 624.06,667.71 621,665.7 617.94,667.71 618.91,664.18 616.05,661.89 619.71,661.72" fill="#800000"/>
<text x="646.3" y="669.4" font-size="20" text-anchor="start" font-weight="normal" fill="#000" textLength="20" lengthAdjust="spacingAndGlyphs" stroke="#000" stroke-width="0.35">10</text>
<path d="M84,951 V1332 H595.3" fill="none" stroke="#1a1a1a" stroke-width="1.8"/>
<line x1="76.5" y1="1305" x2="84" y2="1305" stroke="#1a1a1a" stroke-width="1.8"/>
<line x1="76.5" y1="1250.52" x2="84" y2="1250.52" stroke="#1a1a1a" stroke-width="1.8"/>
<line x1="76.5" y1="1196.04" x2="84" y2="1196.04" stroke="#1a1a1a" stroke-width="1.8"/>
<line x1="76.5" y1="1141.56" x2="84" y2="1141.56" stroke="#1a1a1a" stroke-width="1.8"/>
<line x1="76.5" y1="1087.08" x2="84" y2="1087.08" stroke="#1a1a1a" stroke-width="1.8"/>
<line x1="76.5" y1="1032.6" x2="84" y2="1032.6" stroke="#1a1a1a" stroke-width="1.8"/>
<line x1="76.5" y1="978.12" x2="84" y2="978.12" stroke="#1a1a1a" stroke-width="1.8"/>
<line x1="80" y1="1332.24" x2="84" y2="1332.24" stroke="#1a1a1a" stroke-width="1.8"/>
<line x1="80" y1="1277.76" x2="84" y2="1277.76" stroke="#1a1a1a" stroke-width="1.8"/>
<line x1="80" y1="1223.28" x2="84" y2="1223.28" stroke="#1a1a1a" stroke-width="1.8"/>
<line x1="80" y1="1168.8" x2="84" y2="1168.8" stroke="#1a1a1a" stroke-width="1.8"/>
<line x1="80" y1="1114.32" x2="84" y2="1114.32" stroke="#1a1a1a" stroke-width="1.8"/>
<line x1="80" y1="1059.84" x2="84" y2="1059.84" stroke="#1a1a1a" stroke-width="1.8"/>
<line x1="80" y1="1005.36" x2="84" y2="1005.36" stroke="#1a1a1a" stroke-width="1.8"/>
<line x1="80" y1="950.88" x2="84" y2="950.88" stroke="#1a1a1a" stroke-width="1.8"/>
<line x1="120.8" y1="1332" x2="120.8" y2="1339.5" stroke="#1a1a1a" stroke-width="1.8"/>
<line x1="193.85" y1="1332" x2="193.85" y2="1339.5" stroke="#1a1a1a" stroke-width="1.8"/>
<line x1="266.9" y1="1332" x2="266.9" y2="1339.5" stroke="#1a1a1a" stroke-width="1.8"/>
<line x1="339.95" y1="1332" x2="339.95" y2="1339.5" stroke="#1a1a1a" stroke-width="1.8"/>
<line x1="413" y1="1332" x2="413" y2="1339.5" stroke="#1a1a1a" stroke-width="1.8"/>
<line x1="486.05" y1="1332" x2="486.05" y2="1339.5" stroke="#1a1a1a" stroke-width="1.8"/>
<line x1="559.1" y1="1332" x2="559.1" y2="1339.5" stroke="#1a1a1a" stroke-width="1.8"/>
<line x1="84.28" y1="1332" x2="84.28" y2="1336" stroke="#1a1a1a" stroke-width="1.8"/>
<line x1="157.32" y1="1332" x2="157.32" y2="1336" stroke="#1a1a1a" stroke-width="1.8"/>
<line x1="230.38" y1="1332" x2="230.38" y2="1336" stroke="#1a1a1a" stroke-width="1.8"/>
<line x1="303.43" y1="1332" x2="303.43" y2="1336" stroke="#1a1a1a" stroke-width="1.8"/>
<line x1="376.47" y1="1332" x2="376.47" y2="1336" stroke="#1a1a1a" stroke-width="1.8"/>
<line x1="449.52" y1="1332" x2="449.52" y2="1336" stroke="#1a1a1a" stroke-width="1.8"/>
<line x1="522.57" y1="1332" x2="522.57" y2="1336" stroke="#1a1a1a" stroke-width="1.8"/>
<line x1="595.62" y1="1332" x2="595.62" y2="1336" stroke="#1a1a1a" stroke-width="1.8"/>
<text x="63" y="1310.9" font-size="21.5" text-anchor="end" font-weight="normal" fill="#000" stroke="#000" stroke-width="0.6" textLength="10.9" lengthAdjust="spacingAndGlyphs">0</text>
<text x="64.5" y="1256.42" font-size="21.5" text-anchor="end" font-weight="normal" fill="#000" stroke="#000" stroke-width="0.6" textLength="21.8" lengthAdjust="spacingAndGlyphs">20</text>
<text x="64.8" y="1201.94" font-size="21.5" text-anchor="end" font-weight="normal" fill="#000" stroke="#000" stroke-width="0.6" textLength="21.8" lengthAdjust="spacingAndGlyphs">40</text>
<text x="64.5" y="1147.46" font-size="21.5" text-anchor="end" font-weight="normal" fill="#000" stroke="#000" stroke-width="0.6" textLength="21.8" lengthAdjust="spacingAndGlyphs">60</text>
<text x="64.3" y="1092.98" font-size="21.5" text-anchor="end" font-weight="normal" fill="#000" stroke="#000" stroke-width="0.6" textLength="21.8" lengthAdjust="spacingAndGlyphs">80</text>
<text x="65.5" y="1038.5" font-size="21.5" text-anchor="end" font-weight="normal" fill="#000" stroke="#000" stroke-width="0.6" textLength="32.7" lengthAdjust="spacingAndGlyphs">100</text>
<text x="65.5" y="984.02" font-size="21.5" text-anchor="end" font-weight="normal" fill="#000" stroke="#000" stroke-width="0.6" textLength="32.7" lengthAdjust="spacingAndGlyphs">120</text>
<text x="120.8" y="1362.6" font-size="21.5" text-anchor="middle" font-weight="normal" fill="#000" stroke="#000" stroke-width="0.6" textLength="10.9" lengthAdjust="spacingAndGlyphs">0</text>
<text x="193.85" y="1362.6" font-size="21.5" text-anchor="middle" font-weight="normal" fill="#000" stroke="#000" stroke-width="0.6" textLength="21.8" lengthAdjust="spacingAndGlyphs">10</text>
<text x="266.9" y="1362.6" font-size="21.5" text-anchor="middle" font-weight="normal" fill="#000" stroke="#000" stroke-width="0.6" textLength="21.8" lengthAdjust="spacingAndGlyphs">20</text>
<text x="339.95" y="1362.6" font-size="21.5" text-anchor="middle" font-weight="normal" fill="#000" stroke="#000" stroke-width="0.6" textLength="21.8" lengthAdjust="spacingAndGlyphs">30</text>
<text x="413" y="1362.6" font-size="21.5" text-anchor="middle" font-weight="normal" fill="#000" stroke="#000" stroke-width="0.6" textLength="21.8" lengthAdjust="spacingAndGlyphs">40</text>
<text x="486.05" y="1362.6" font-size="21.5" text-anchor="middle" font-weight="normal" fill="#000" stroke="#000" stroke-width="0.6" textLength="21.8" lengthAdjust="spacingAndGlyphs">50</text>
<text x="559.1" y="1362.6" font-size="21.5" text-anchor="middle" font-weight="normal" fill="#000" stroke="#000" stroke-width="0.6" textLength="21.8" lengthAdjust="spacingAndGlyphs">60</text>
<text x="337.6" y="1393.9" font-size="24.4" text-anchor="middle" font-weight="normal" fill="#000" stroke="#000" stroke-width="0.35">Time (min)</text>
<text transform="translate(21.7,1156.8) rotate(-90)" font-size="24.3" text-anchor="middle" stroke="#000" stroke-width="0.3">Relative Activity (%)</text>
<text x="10.8" y="956.7" font-size="32" text-anchor="start" font-weight="bold" fill="#000">c</text>
<polyline points="120.8,1032.6 193.85,1261.42 266.9,1294.1 339.95,1305 413,1305 486.05,1305 559.1,1305" fill="none" stroke="#606060" stroke-width="1.5"/>
<rect x="116.9" y="1028.7" width="7.8" height="7.8" fill="#000000"/>
<rect x="189.95" y="1257.52" width="7.8" height="7.8" fill="#000000"/>
<rect x="263" y="1290.2" width="7.8" height="7.8" fill="#000000"/>
<rect x="336.05" y="1301.1" width="7.8" height="7.8" fill="#000000"/>
<rect x="409.1" y="1301.1" width="7.8" height="7.8" fill="#000000"/>
<rect x="482.15" y="1301.1" width="7.8" height="7.8" fill="#000000"/>
<rect x="555.2" y="1301.1" width="7.8" height="7.8" fill="#000000"/>
<polyline points="120.8,1032.6 193.85,1241.53 266.9,1269.32 339.95,1278.58 413,1305 486.05,1305 559.1,1305" fill="none" stroke="#ff5a5a" stroke-width="1.5"/>
<line x1="193.85" y1="1229.53" x2="193.85" y2="1253.53" stroke="#ff5a5a" stroke-width="1.3"/>
<line x1="190" y1="1229.53" x2="197.7" y2="1229.53" stroke="#ff5a5a" stroke-width="1.3"/>
<line x1="190" y1="1253.53" x2="197.7" y2="1253.53" stroke="#ff5a5a" stroke-width="1.3"/>
<line x1="266.9" y1="1265.32" x2="266.9" y2="1273.32" stroke="#ff5a5a" stroke-width="1.3"/>
<line x1="263.05" y1="1265.32" x2="270.75" y2="1265.32" stroke="#ff5a5a" stroke-width="1.3"/>
<line x1="263.05" y1="1273.32" x2="270.75" y2="1273.32" stroke="#ff5a5a" stroke-width="1.3"/>
<line x1="339.95" y1="1273.58" x2="339.95" y2="1283.58" stroke="#ff5a5a" stroke-width="1.3"/>
<line x1="336.1" y1="1273.58" x2="343.8" y2="1273.58" stroke="#ff5a5a" stroke-width="1.3"/>
<line x1="336.1" y1="1283.58" x2="343.8" y2="1283.58" stroke="#ff5a5a" stroke-width="1.3"/>
<circle cx="120.8" cy="1032.6" r="4.4" fill="#ff0000"/>
<circle cx="193.85" cy="1241.53" r="4.4" fill="#ff0000"/>
<circle cx="266.9" cy="1269.32" r="4.4" fill="#ff0000"/>
<circle cx="339.95" cy="1278.58" r="4.4" fill="#ff0000"/>
<circle cx="413" cy="1305" r="4.4" fill="#ff0000"/>
<circle cx="486.05" cy="1305" r="4.4" fill="#ff0000"/>
<circle cx="559.1" cy="1305" r="4.4" fill="#ff0000"/>
<polyline points="120.8,1032.6 193.85,1245.89 266.9,1241.53 339.95,1253.24 413,1270.68 486.05,1279.39 559.1,1291.65" fill="none" stroke="#6060e8" stroke-width="1.5"/>
<line x1="266.9" y1="1237.53" x2="266.9" y2="1245.53" stroke="#6060e8" stroke-width="1.3"/>
<line x1="263.05" y1="1237.53" x2="270.75" y2="1237.53" stroke="#6060e8" stroke-width="1.3"/>
<line x1="263.05" y1="1245.53" x2="270.75" y2="1245.53" stroke="#6060e8" stroke-width="1.3"/>
<line x1="339.95" y1="1248.24" x2="339.95" y2="1258.24" stroke="#6060e8" stroke-width="1.3"/>
<line x1="336.1" y1="1248.24" x2="343.8" y2="1248.24" stroke="#6060e8" stroke-width="1.3"/>
<line x1="336.1" y1="1258.24" x2="343.8" y2="1258.24" stroke="#6060e8" stroke-width="1.3"/>
<line x1="413" y1="1266.68" x2="413" y2="1274.68" stroke="#6060e8" stroke-width="1.3"/>
<line x1="409.15" y1="1266.68" x2="416.85" y2="1266.68" stroke="#6060e8" stroke-width="1.3"/>
<line x1="409.15" y1="1274.68" x2="416.85" y2="1274.68" stroke="#6060e8" stroke-width="1.3"/>
<line x1="559.1" y1="1288.65" x2="559.1" y2="1294.65" stroke="#6060e8" stroke-width="1.3"/>
<line x1="555.25" y1="1288.65" x2="562.95" y2="1288.65" stroke="#6060e8" stroke-width="1.3"/>
<line x1="555.25" y1="1294.65" x2="562.95" y2="1294.65" stroke="#6060e8" stroke-width="1.3"/>
<polygon points="120.8,1026.6 126.3,1036.2 115.3,1036.2" fill="#0000ff"/>
<polygon points="193.85,1239.89 199.35,1249.49 188.35,1249.49" fill="#0000ff"/>
<polygon points="266.9,1235.53 272.4,1245.13 261.4,1245.13" fill="#0000ff"/>
<polygon points="339.95,1247.24 345.45,1256.84 334.45,1256.84" fill="#0000ff"/>
<polygon points="413,1264.68 418.5,1274.28 407.5,1274.28" fill="#0000ff"/>
<polygon points="486.05,1273.39 491.55,1282.99 480.55,1282.99" fill="#0000ff"/>
<polygon points="559.1,1285.65 564.6,1295.25 553.6,1295.25" fill="#0000ff"/>
<polyline points="120.8,1032.6 193.85,1140.47 266.9,1185.14 339.95,1211.57 413,1219.47 486.05,1229.27 559.1,1258.42" fill="none" stroke="#ff60ff" stroke-width="1.5"/>
<line x1="193.85" y1="1134.47" x2="193.85" y2="1146.47" stroke="#ff60ff" stroke-width="1.3"/>
<line x1="190" y1="1134.47" x2="197.7" y2="1134.47" stroke="#ff60ff" stroke-width="1.3"/>
<line x1="190" y1="1146.47" x2="197.7" y2="1146.47" stroke="#ff60ff" stroke-width="1.3"/>
<line x1="266.9" y1="1177.14" x2="266.9" y2="1193.14" stroke="#ff60ff" stroke-width="1.3"/>
<line x1="263.05" y1="1177.14" x2="270.75" y2="1177.14" stroke="#ff60ff" stroke-width="1.3"/>
<line x1="263.05" y1="1193.14" x2="270.75" y2="1193.14" stroke="#ff60ff" stroke-width="1.3"/>
<line x1="339.95" y1="1202.57" x2="339.95" y2="1220.57" stroke="#ff60ff" stroke-width="1.3"/>
<line x1="336.1" y1="1202.57" x2="343.8" y2="1202.57" stroke="#ff60ff" stroke-width="1.3"/>
<line x1="336.1" y1="1220.57" x2="343.8" y2="1220.57" stroke="#ff60ff" stroke-width="1.3"/>
<line x1="413" y1="1215.47" x2="413" y2="1223.47" stroke="#ff60ff" stroke-width="1.3"/>
<line x1="409.15" y1="1215.47" x2="416.85" y2="1215.47" stroke="#ff60ff" stroke-width="1.3"/>
<line x1="409.15" y1="1223.47" x2="416.85" y2="1223.47" stroke="#ff60ff" stroke-width="1.3"/>
<polygon points="120.8,1038.6 126.3,1029 115.3,1029" fill="#ff00ff"/>
<polygon points="193.85,1146.47 199.35,1136.87 188.35,1136.87" fill="#ff00ff"/>
<polygon points="266.9,1191.14 272.4,1181.54 261.4,1181.54" fill="#ff00ff"/>
<polygon points="339.95,1217.57 345.45,1207.97 334.45,1207.97" fill="#ff00ff"/>
<polygon points="413,1225.47 418.5,1215.87 407.5,1215.87" fill="#ff00ff"/>
<polygon points="486.05,1235.27 491.55,1225.67 480.55,1225.67" fill="#ff00ff"/>
<polygon points="559.1,1264.42 564.6,1254.82 553.6,1254.82" fill="#ff00ff"/>
<polyline points="120.8,1032.6 193.85,1020.89 266.9,1006.45 339.95,996.92 413,988.2 486.05,987.93 559.1,988.2" fill="none" stroke="#72bb72" stroke-width="1.5"/>
<line x1="193.85" y1="1010.89" x2="193.85" y2="1030.89" stroke="#72bb72" stroke-width="1.3"/>
<line x1="190" y1="1010.89" x2="197.7" y2="1010.89" stroke="#72bb72" stroke-width="1.3"/>
<line x1="190" y1="1030.89" x2="197.7" y2="1030.89" stroke="#72bb72" stroke-width="1.3"/>
<line x1="266.9" y1="997.45" x2="266.9" y2="1015.45" stroke="#72bb72" stroke-width="1.3"/>
<line x1="263.05" y1="997.45" x2="270.75" y2="997.45" stroke="#72bb72" stroke-width="1.3"/>
<line x1="263.05" y1="1015.45" x2="270.75" y2="1015.45" stroke="#72bb72" stroke-width="1.3"/>
<line x1="339.95" y1="992.92" x2="339.95" y2="1000.92" stroke="#72bb72" stroke-width="1.3"/>
<line x1="336.1" y1="992.92" x2="343.8" y2="992.92" stroke="#72bb72" stroke-width="1.3"/>
<line x1="336.1" y1="1000.92" x2="343.8" y2="1000.92" stroke="#72bb72" stroke-width="1.3"/>
<line x1="413" y1="978.2" x2="413" y2="998.2" stroke="#72bb72" stroke-width="1.3"/>
<line x1="409.15" y1="978.2" x2="416.85" y2="978.2" stroke="#72bb72" stroke-width="1.3"/>
<line x1="409.15" y1="998.2" x2="416.85" y2="998.2" stroke="#72bb72" stroke-width="1.3"/>
<line x1="486.05" y1="979.93" x2="486.05" y2="995.93" stroke="#72bb72" stroke-width="1.3"/>
<line x1="482.2" y1="979.93" x2="489.9" y2="979.93" stroke="#72bb72" stroke-width="1.3"/>
<line x1="482.2" y1="995.93" x2="489.9" y2="995.93" stroke="#72bb72" stroke-width="1.3"/>
<polygon points="120.8,1027.2 126.4,1032.6 120.8,1038 115.2,1032.6" fill="#008000"/>
<polygon points="193.85,1015.49 199.45,1020.89 193.85,1026.29 188.25,1020.89" fill="#008000"/>
<polygon points="266.9,1001.05 272.5,1006.45 266.9,1011.85 261.3,1006.45" fill="#008000"/>
<polygon points="339.95,991.52 345.55,996.92 339.95,1002.32 334.35,996.92" fill="#008000"/>
<polygon points="413,982.8 418.6,988.2 413,993.6 407.4,988.2" fill="#008000"/>
<polygon points="486.05,982.53 491.65,987.93 486.05,993.33 480.45,987.93" fill="#008000"/>
<polygon points="559.1,982.8 564.7,988.2 559.1,993.6 553.5,988.2" fill="#008000"/>
<polyline points="120.8,1032.6 193.85,1029.88 266.9,1017.35 339.95,1001.82 413,1008.08 486.05,1007.54 559.1,1006.45" fill="none" stroke="#6666c0" stroke-width="1.5"/>
<line x1="193.85" y1="1026.88" x2="193.85" y2="1032.88" stroke="#6666c0" stroke-width="1.3"/>
<line x1="190" y1="1026.88" x2="197.7" y2="1026.88" stroke="#6666c0" stroke-width="1.3"/>
<line x1="190" y1="1032.88" x2="197.7" y2="1032.88" stroke="#6666c0" stroke-width="1.3"/>
<line x1="266.9" y1="1012.95" x2="266.9" y2="1021.75" stroke="#6666c0" stroke-width="1.3"/>
<line x1="263.05" y1="1012.95" x2="270.75" y2="1012.95" stroke="#6666c0" stroke-width="1.3"/>
<line x1="263.05" y1="1021.75" x2="270.75" y2="1021.75" stroke="#6666c0" stroke-width="1.3"/>
<line x1="339.95" y1="997.82" x2="339.95" y2="1005.82" stroke="#6666c0" stroke-width="1.3"/>
<line x1="336.1" y1="997.82" x2="343.8" y2="997.82" stroke="#6666c0" stroke-width="1.3"/>
<line x1="336.1" y1="1005.82" x2="343.8" y2="1005.82" stroke="#6666c0" stroke-width="1.3"/>
<line x1="486.05" y1="999.54" x2="486.05" y2="1015.54" stroke="#6666c0" stroke-width="1.3"/>
<line x1="482.2" y1="999.54" x2="489.9" y2="999.54" stroke="#6666c0" stroke-width="1.3"/>
<line x1="482.2" y1="1015.54" x2="489.9" y2="1015.54" stroke="#6666c0" stroke-width="1.3"/>
<line x1="559.1" y1="1003.45" x2="559.1" y2="1009.45" stroke="#6666c0" stroke-width="1.3"/>
<line x1="555.25" y1="1003.45" x2="562.95" y2="1003.45" stroke="#6666c0" stroke-width="1.3"/>
<line x1="555.25" y1="1009.45" x2="562.95" y2="1009.45" stroke="#6666c0" stroke-width="1.3"/>
<polygon points="114.8,1032.6 124.4,1027.1 124.4,1038.1" fill="#000080"/>
<polygon points="187.85,1029.88 197.45,1024.38 197.45,1035.38" fill="#000080"/>
<polygon points="260.9,1017.35 270.5,1011.85 270.5,1022.85" fill="#000080"/>
<polygon points="333.95,1001.82 343.55,996.32 343.55,1007.32" fill="#000080"/>
<polygon points="407,1008.08 416.6,1002.58 416.6,1013.58" fill="#000080"/>
<polygon points="480.05,1007.54 489.65,1002.04 489.65,1013.04" fill="#000080"/>
<polygon points="553.1,1006.45 562.7,1000.95 562.7,1011.95" fill="#000080"/>
<polyline points="120.8,1032.6 193.85,1164.71 266.9,1198.49 339.95,1218.65 413,1226.82 486.05,1237.99 559.1,1269.04" fill="none" stroke="#b878f0" stroke-width="1.5"/>
<line x1="193.85" y1="1156.71" x2="193.85" y2="1172.71" stroke="#b878f0" stroke-width="1.3"/>
<line x1="190" y1="1156.71" x2="197.7" y2="1156.71" stroke="#b878f0" stroke-width="1.3"/>
<line x1="190" y1="1172.71" x2="197.7" y2="1172.71" stroke="#b878f0" stroke-width="1.3"/>
<line x1="339.95" y1="1212.65" x2="339.95" y2="1224.65" stroke="#b878f0" stroke-width="1.3"/>
<line x1="336.1" y1="1212.65" x2="343.8" y2="1212.65" stroke="#b878f0" stroke-width="1.3"/>
<line x1="336.1" y1="1224.65" x2="343.8" y2="1224.65" stroke="#b878f0" stroke-width="1.3"/>
<line x1="413" y1="1221.82" x2="413" y2="1231.82" stroke="#b878f0" stroke-width="1.3"/>
<line x1="409.15" y1="1221.82" x2="416.85" y2="1221.82" stroke="#b878f0" stroke-width="1.3"/>
<line x1="409.15" y1="1231.82" x2="416.85" y2="1231.82" stroke="#b878f0" stroke-width="1.3"/>
<line x1="559.1" y1="1262.04" x2="559.1" y2="1276.04" stroke="#b878f0" stroke-width="1.3"/>
<line x1="555.25" y1="1262.04" x2="562.95" y2="1262.04" stroke="#b878f0" stroke-width="1.3"/>
<line x1="555.25" y1="1276.04" x2="562.95" y2="1276.04" stroke="#b878f0" stroke-width="1.3"/>
<polygon points="126.8,1032.6 117.2,1027.1 117.2,1038.1" fill="#8000ff"/>
<polygon points="199.85,1164.71 190.25,1159.21 190.25,1170.21" fill="#8000ff"/>
<polygon points="272.9,1198.49 263.3,1192.99 263.3,1203.99" fill="#8000ff"/>
<polygon points="345.95,1218.65 336.35,1213.15 336.35,1224.15" fill="#8000ff"/>
<polygon points="419,1226.82 409.4,1221.32 409.4,1232.32" fill="#8000ff"/>
<polygon points="492.05,1237.99 482.45,1232.49 482.45,1243.49" fill="#8000ff"/>
<polygon points="565.1,1269.04 555.5,1263.54 555.5,1274.54" fill="#8000ff"/>
<polyline points="120.8,1032.6 193.85,1187.87 266.9,1217.29 339.95,1234.18 413,1262.78 486.05,1305 559.1,1305" fill="none" stroke="#b878e0" stroke-width="1.5"/>
<polygon points="120.8,1027.6 125.13,1030.1 125.13,1035.1 120.8,1037.6 116.47,1035.1 116.47,1030.1" fill="#800080"/>
<polygon points="193.85,1182.87 198.18,1185.37 198.18,1190.37 193.85,1192.87 189.52,1190.37 189.52,1185.37" fill="#800080"/>
<polygon points="266.9,1212.29 271.23,1214.79 271.23,1219.79 266.9,1222.29 262.57,1219.79 262.57,1214.79" fill="#800080"/>
<polygon points="339.95,1229.18 344.28,1231.68 344.28,1236.68 339.95,1239.18 335.62,1236.68 335.62,1231.68" fill="#800080"/>
<polygon points="413,1257.78 417.33,1260.28 417.33,1265.28 413,1267.78 408.67,1265.28 408.67,1260.28" fill="#800080"/>
<polygon points="486.05,1300 490.38,1302.5 490.38,1307.5 486.05,1310 481.72,1307.5 481.72,1302.5" fill="#800080"/>
<polygon points="559.1,1300 563.43,1302.5 563.43,1307.5 559.1,1310 554.77,1307.5 554.77,1302.5" fill="#800080"/>
<polyline points="120.8,1032.6 193.85,1219.47 266.9,1230.36 339.95,1256.24 413,1305 486.05,1305 559.1,1305" fill="none" stroke="#b07070" stroke-width="1.5"/>
<line x1="193.85" y1="1215.47" x2="193.85" y2="1223.47" stroke="#b07070" stroke-width="1.3"/>
<line x1="190" y1="1215.47" x2="197.7" y2="1215.47" stroke="#b07070" stroke-width="1.3"/>
<line x1="190" y1="1223.47" x2="197.7" y2="1223.47" stroke="#b07070" stroke-width="1.3"/>
<polygon points="120.8,1028 122.09,1031.42 125.75,1031.59 122.89,1033.88 123.86,1037.41 120.8,1035.4 117.74,1037.41 118.71,1033.88 115.85,1031.59 119.51,1031.42" fill="#800000"/>
<polygon points="193.85,1214.87 195.14,1218.29 198.8,1218.46 195.94,1220.75 196.91,1224.27 193.85,1222.27 190.79,1224.27 191.76,1220.75 188.9,1218.46 192.56,1218.29" fill="#800000"/>
<polygon points="266.9,1225.76 268.19,1229.18 271.85,1229.36 268.99,1231.64 269.96,1235.17 266.9,1233.16 263.84,1235.17 264.81,1231.64 261.95,1229.36 265.61,1229.18" fill="#800000"/>
<polygon points="339.95,1251.64 341.24,1255.06 344.9,1255.23 342.04,1257.52 343.01,1261.05 339.95,1259.04 336.89,1261.05 337.86,1257.52 335,1255.23 338.66,1255.06" fill="#800000"/>
<polygon points="413,1300.4 414.29,1303.82 417.95,1303.99 415.09,1306.28 416.06,1309.81 413,1307.8 409.94,1309.81 410.91,1306.28 408.05,1303.99 411.71,1303.82" fill="#800000"/>
<polygon points="486.05,1300.4 487.34,1303.82 491,1303.99 488.14,1306.28 489.11,1309.81 486.05,1307.8 482.99,1309.81 483.96,1306.28 481.1,1303.99 484.76,1303.82" fill="#800000"/>
<polygon points="559.1,1300.4 560.39,1303.82 564.05,1303.99 561.19,1306.28 562.16,1309.81 559.1,1307.8 556.04,1309.81 557.01,1306.28 554.15,1303.99 557.81,1303.82" fill="#800000"/>
<rect x="587.3" y="942.3" width="91" height="205.8" fill="none" stroke="#7a7a7a" stroke-width="1.4"/>
<line x1="601" y1="960.5" x2="641.3" y2="960.5" stroke="#606060" stroke-width="1.5"/>
<rect x="617.1" y="956.6" width="7.8" height="7.8" fill="#000000"/>
<text x="646.3" y="967" font-size="20" text-anchor="start" font-weight="normal" fill="#000" textLength="10" lengthAdjust="spacingAndGlyphs" stroke="#000" stroke-width="0.35">3</text>
<line x1="601" y1="982.75" x2="641.3" y2="982.75" stroke="#ff5a5a" stroke-width="1.5"/>
<circle cx="621" cy="982.75" r="4.4" fill="#ff0000"/>
<text x="646.3" y="989.25" font-size="20" text-anchor="start" font-weight="normal" fill="#000" textLength="10" lengthAdjust="spacingAndGlyphs" stroke="#000" stroke-width="0.35">4</text>
<line x1="601" y1="1005" x2="641.3" y2="1005" stroke="#6060e8" stroke-width="1.5"/>
<polygon points="621,999 626.5,1008.6 615.5,1008.6" fill="#0000ff"/>
<text x="646.3" y="1011.5" font-size="20" text-anchor="start" font-weight="normal" fill="#000" textLength="10" lengthAdjust="spacingAndGlyphs" stroke="#000" stroke-width="0.35">5</text>
<line x1="601" y1="1027.25" x2="641.3" y2="1027.25" stroke="#ff60ff" stroke-width="1.5"/>
<polygon points="621,1033.25 626.5,1023.65 615.5,1023.65" fill="#ff00ff"/>
<text x="646.3" y="1033.75" font-size="20" text-anchor="start" font-weight="normal" fill="#000" textLength="10" lengthAdjust="spacingAndGlyphs" stroke="#000" stroke-width="0.35">6</text>
<line x1="601" y1="1049.5" x2="641.3" y2="1049.5" stroke="#72bb72" stroke-width="1.5"/>
<polygon points="621,1044.1 626.6,1049.5 621,1054.9 615.4,1049.5" fill="#008000"/>
<text x="646.3" y="1056" font-size="20" text-anchor="start" font-weight="normal" fill="#000" textLength="10" lengthAdjust="spacingAndGlyphs" stroke="#000" stroke-width="0.35">7</text>
<line x1="601" y1="1071.75" x2="641.3" y2="1071.75" stroke="#6666c0" stroke-width="1.5"/>
<polygon points="615,1071.75 624.6,1066.25 624.6,1077.25" fill="#000080"/>
<text x="646.3" y="1078.25" font-size="20" text-anchor="start" font-weight="normal" fill="#000" textLength="25" lengthAdjust="spacingAndGlyphs" stroke="#000" stroke-width="0.35">7.5</text>
<line x1="601" y1="1094" x2="641.3" y2="1094" stroke="#b878f0" stroke-width="1.5"/>
<polygon points="627,1094 617.4,1088.5 617.4,1099.5" fill="#8000ff"/>
<text x="646.3" y="1100.5" font-size="20" text-anchor="start" font-weight="normal" fill="#000" textLength="10" lengthAdjust="spacingAndGlyphs" stroke="#000" stroke-width="0.35">8</text>
<line x1="601" y1="1116.25" x2="641.3" y2="1116.25" stroke="#b878e0" stroke-width="1.5"/>
<polygon points="621,1111.25 625.33,1113.75 625.33,1118.75 621,1121.25 616.67,1118.75 616.67,1113.75" fill="#800080"/>
<text x="646.3" y="1122.75" font-size="20" text-anchor="start" font-weight="normal" fill="#000" textLength="10" lengthAdjust="spacingAndGlyphs" stroke="#000" stroke-width="0.35">9</text>
<line x1="601" y1="1138.5" x2="641.3" y2="1138.5" stroke="#b07070" stroke-width="1.5"/>
<polygon points="621,1133.9 622.29,1137.32 625.95,1137.49 623.09,1139.78 624.06,1143.31 621,1141.3 617.94,1143.31 618.91,1139.78 616.05,1137.49 619.71,1137.32" fill="#800000"/>
<text x="646.3" y="1145" font-size="20" text-anchor="start" font-weight="normal" fill="#000" textLength="20" lengthAdjust="spacingAndGlyphs" stroke="#000" stroke-width="0.35">10</text>
</svg>
</body></html>
